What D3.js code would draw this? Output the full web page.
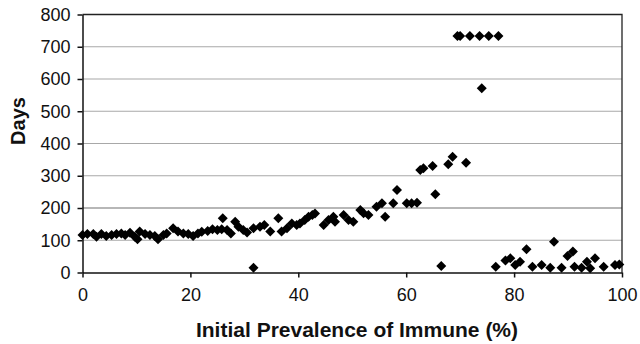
<!DOCTYPE html>
<html>
<head>
<meta charset="utf-8">
<script src="https://cdn.jsdelivr.net/npm/d3@7"></script>
<style>
  html, body { margin: 0; padding: 0; background: #fff; }
  #chart { width: 640px; height: 344px; }
</style>
</head>
<body>
<div id="chart"></div>
<script>
// initial prevalence of immune (%) and days
const prevalence = [
  0, 0.9, 2, 2.6, 3.5, 4.4, 5.4, 6.3, 7.2, 7.9, 8.8, 9.7, 10.2, 10.6, 11.6, 12.5, 13.4, 14, 15, 15.6,
  16.8, 17.7, 18.7, 19.6, 20.5, 21.4, 22.1, 23.2, 24.1, 25, 25.8, 26, 26.8, 27.5, 28.3, 28.9, 29.8, 30.5,
  31.7, 31.7, 32.9, 33.7, 34.8, 36.3, 36.9, 37.9, 38.8, 39.7, 40.3, 41.2, 41.9, 42.6, 43.1, 44.7, 45.6,
  46.5, 46.8, 48.4, 49.3, 50.2, 51.5, 52.1, 53, 54.5, 55.5, 56.1, 57.6, 58.3, 60.1, 61, 62, 62.6, 63.2,
  64.9, 65.4, 66.5, 67.8, 68.6, 69.5, 70, 71.1, 71.8, 73.6, 74, 75.3, 77.1, 76.6, 78.4, 79.3, 80.2,
  81.1, 82.3, 83.4, 85.1, 86.7, 87.4, 88.8, 89.9, 90.9, 91.2, 92.5, 93.5, 94.1, 95, 96.6, 98.7, 99.5
];
const days = [
  116, 119, 119, 111, 119, 113, 116, 119, 121, 116, 123, 111, 103, 127, 119, 116, 113, 103, 116, 121,
  137, 127, 121, 119, 113, 121, 126, 129, 134, 132, 134, 168, 132, 121, 157, 142, 132, 124,
  137, 15, 142, 147, 127, 168, 127, 137, 152, 147, 152, 163, 173, 178, 183, 147, 163,
  173, 157, 178, 163, 157, 194, 184, 178, 204, 215, 173, 215, 256, 215, 215, 216, 318, 323,
  330, 243, 20, 336, 359, 733, 733, 340, 733, 733, 571, 733, 733, 18, 37, 44, 23,
  33, 72, 18, 23, 15, 95, 15, 51, 65, 18, 15, 33, 13, 44, 18, 23, 25
];
const xTicks = [0, 20, 40, 60, 80, 100];
const yTicks = [0, 100, 200, 300, 400, 500, 600, 700, 800];
const xTitle = 'Initial Prevalence of Immune (%)';
const yTitle = 'Days';

const points = prevalence.map((p, i) => [p, days[i]]);

const margin = { top: 14.5, right: 18, bottom: 71.5, left: 82.5 };
const width = 640, height = 344;
const innerW = width - margin.left - margin.right;
const innerH = height - margin.top - margin.bottom;

const svg = d3.select('#chart').append('svg')
  .attr('width', width)
  .attr('height', height);

const chartArea = svg.append('g')
  .attr('transform', `translate(${margin.left},${margin.top})`);

const xScale = d3.scaleLinear().domain([0, 100]).range([0, innerW]);
const yScale = d3.scaleLinear().domain([0, 800]).range([innerH, 0]);

// gridlines
chartArea.append('g')
  .selectAll('line')
  .data(yTicks.filter(d => d > 0 && d < 800))
  .enter().append('line')
  .attr('x1', 0).attr('x2', innerW)
  .attr('y1', d => yScale(d)).attr('y2', d => yScale(d))
  .style('stroke', d => d === 200 ? '#707070' : '#a8a8a8')
  .style('stroke-width', 1.2);

// top and right frame
chartArea.append('path')
  .attr('d', `M0,${yScale(800)}H${innerW}V${yScale(0)}`)
  .style('fill', 'none')
  .style('stroke', '#222')
  .style('stroke-width', 1.3);

const xAxis = d3.axisBottom(xScale).tickValues(xTicks).tickSize(5).tickPadding(11).tickSizeOuter(0);
const yAxis = d3.axisLeft(yScale).tickValues(yTicks).tickSize(5).tickPadding(7).tickSizeOuter(0);

chartArea.append('g')
  .attr('class', 'axis')
  .attr('transform', `translate(0,${innerH})`)
  .call(xAxis);

chartArea.append('g')
  .attr('class', 'axis')
  .call(yAxis);

svg.selectAll('.axis text')
  .style('font-family', '"Liberation Sans", Arial, sans-serif')
  .style('font-size', '18px')
  .style('fill', '#111');

svg.selectAll('.axis path, .axis line')
  .style('stroke', '#111')
  .style('stroke-width', 1.5);

// diamond markers
const r = 5;
chartArea.append('g')
  .selectAll('path')
  .data(points)
  .enter().append('path')
  .attr('d', `M0,${-r}L${r},0L0,${r}L${-r},0Z`)
  .attr('transform', d => `translate(${xScale(d[0])},${yScale(d[1])})`)
  .style('fill', '#000');

// titles
svg.append('text')
  .attr('x', 357)
  .attr('y', 337)
  .attr('text-anchor', 'middle')
  .style('font-family', '"Liberation Sans", Arial, sans-serif')
  .style('font-weight', 'bold')
  .style('font-size', '21px')
  .style('fill', '#111')
  .text(xTitle);

svg.append('text')
  .attr('transform', 'translate(25,121) rotate(-90)')
  .attr('text-anchor', 'middle')
  .style('font-family', '"Liberation Sans", Arial, sans-serif')
  .style('font-weight', 'bold')
  .style('font-size', '20px')
  .style('fill', '#111')
  .text(yTitle);
</script>
</body>
</html>
